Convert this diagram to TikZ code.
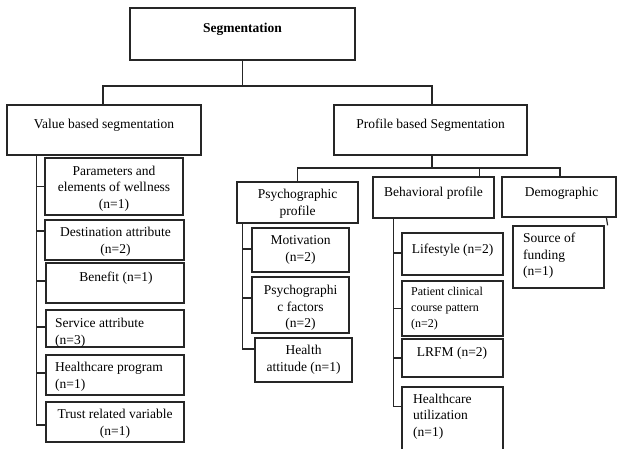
\documentclass[tikz,border=0pt]{standalone}
\usepackage{fontspec}
\setmainfont{Liberation Serif}
\usetikzlibrary{calc}
\tikzset{
  box/.style={draw=black!85, line width=1.2pt, inner sep=0pt, fill=none},
  txt/.style={inner sep=0pt, align=center, font=\fontsize{13.5}{16.5}\selectfont},
  ltxt/.style={inner sep=0pt, align=left, anchor=west, font=\fontsize{13.5}{16.5}\selectfont},
  sltxt/.style={inner sep=0pt, align=left, anchor=west, font=\fontsize{12}{16}\selectfont},
  conn/.style={draw=black!85, line width=1.2pt}
}
\begin{document}
\begin{tikzpicture}[x=1pt,y=-1pt]
\useasboundingbox (0,0) rectangle (617,448);
% boxes
\node[box, minimum width=225, minimum height=52] (top) at (242.5,34) {};
\node[box, minimum width=194, minimum height=50] (value) at (104,130) {};
\node[box, minimum width=193, minimum height=50] (profile) at (430.5,130) {};
\node[box, minimum width=121, minimum height=41] (psych) at (297.5,202.5) {};
\node[box, minimum width=121, minimum height=41] (behav) at (433.5,197.5) {};
\node[box, minimum width=114, minimum height=40] (demo) at (559,197) {};
\node[box, minimum width=91, minimum height=62] (source) at (558.5,257) {};
\node[box, minimum width=101, minimum height=42] (life) at (452.5,254) {};
\node[box, minimum width=101, minimum height=55] (patient) at (452.5,308.5) {};
\node[box, minimum width=101, minimum height=38] (lrfm) at (452.5,358) {};
\node[box, minimum width=101, minimum height=66] (hutil) at (452.5,420) {};
\node[box, minimum width=97, minimum height=44] (motiv) at (300.5,250) {};
\node[box, minimum width=97, minimum height=56] (pfact) at (300.5,305) {};
\node[box, minimum width=97, minimum height=44] (hatt) at (303.5,360) {};
\node[box, minimum width=138, minimum height=57] (params) at (114,186.5) {};
\node[box, minimum width=139, minimum height=40] (dest) at (114.5,240) {};
\node[box, minimum width=138, minimum height=40] (benefit) at (115,283) {};
\node[box, minimum width=138, minimum height=37] (service) at (115,328.5) {};
\node[box, minimum width=138, minimum height=40] (hprog) at (115,375) {};
\node[box, minimum width=138, minimum height=40] (trust) at (115,422) {};
% texts
\node[txt, font=\fontsize{13.5}{16.5}\selectfont\bfseries] (tTop) at (242.5,29) {Segmentation};
\node[txt] (tValue) at (104,125) {Value based segmentation};
\node[txt] (tProfile) at (430.5,125) {Profile based Segmentation};
\node[txt] (tPsych) at (297.5,203.5) {Psychographic\\profile};
\node[txt] (tBehav) at (433.5,193) {Behavioral profile};
\node[txt] (tDemo) at (561.5,193) {Demographic};
\node[ltxt] (tSource) at (523,256) {Source of\\funding\\(n=1)};
\node[txt] (tLife) at (452.5,250) {Lifestyle (n=2)};
\node[sltxt] (tPatient) at (411,309) {Patient clinical\\course pattern\\(n=2)};
\node[txt] (tLrfm) at (452,353) {LRFM (n=2)};
\node[ltxt] (tHutil) at (413,416.5) {Healthcare\\utilization\\(n=1)};
\node[txt] (tMotiv) at (300.5,250) {Motivation\\(n=2)};
\node[txt] (tPfact) at (300.5,308) {Psychographi\\c factors\\(n=2)};
\node[txt] (tHatt) at (303.5,359.5) {Health\\attitude (n=1)};
\node[txt] (tParams) at (114,188.5) {Parameters and\\elements of wellness\\(n=1)};
\node[txt] (tDest) at (115.5,241.5) {Destination attribute\\(n=2)};
\node[txt] (tBenefit) at (116,278) {Benefit (n=1)};
\node[ltxt] (tService) at (55,332.5) {Service attribute\\(n=3)};
\node[ltxt] (tHprog) at (55,376.5) {Healthcare program\\(n=1)};
\node[txt] (tTrust) at (115,423.5) {Trust related variable\\(n=1)};
% connectors
\coordinate (bus1) at (0,86);
\coordinate (bus2) at (0,168);
\draw[conn] (top.south) -- (top.south |- bus1);
\draw[conn] ($(value.north)+(-1,0)$) |- ($(bus1 -| profile.north)+(1.5,0)$) -- ($(profile.north)+(1.5,0)$);
\draw[conn] ($(profile.south)+(1.5,0)$) -- ($(profile.south |- bus2)+(1.5,0)$);
\draw[conn] (psych.north) |- ($(bus2 -| demo.north)+(1,0)$) -- ($(demo.north)+(1,0)$);
\draw[conn] ($(behav.north east)+(-15,0)$) -- ($(behav.north east |- bus2)+(-15,0)$);
\draw[conn] ($(demo.south west)+(105,0)$) -- ($(source.north east)+(3,0)$);
% value spine
\coordinate (vs) at ($(value.south west)+(30,0)$);
\draw[conn] (vs) |- ($(trust.west)+(0,3)$);
\draw[conn] (vs |- params.west) -- (params.west);
\draw[conn] ($(vs |- dest.west)+(0,-9)$) -- ($(dest.west)+(0,-9)$);
\draw[conn] ($(vs |- benefit.west)+(0,-2)$) -- ($(benefit.west)+(0,-2)$);
\draw[conn] ($(vs |- service.west)+(0,-1.5)$) -- ($(service.west)+(0,-1.5)$);
\draw[conn] ($(vs |- hprog.west)+(0,-2)$) -- ($(hprog.west)+(0,-2)$);
% psych spine
\coordinate (ps) at ($(psych.south west)+(6,0)$);
\draw[conn] (ps) |- ($(hatt.west)+(0,-11)$);
\draw[conn] ($(ps |- motiv.west)+(0,-1)$) -- ($(motiv.west)+(0,-1)$);
\draw[conn] ($(ps |- pfact.west)+(0,-7)$) -- ($(pfact.west)+(0,-7)$);
% behav spine
\coordinate (bs) at ($(behav.south west)+(21,0)$);
\draw[conn] (bs) |- ($(hutil.north west)+(0,20)$);
\draw[conn] ($(bs |- life.west)+(0,-1)$) -- ($(life.west)+(0,-1)$);
\draw[conn] (bs |- patient.west) -- (patient.west);
\draw[conn] (bs |- lrfm.west) -- (lrfm.west);
\end{tikzpicture}
\end{document}
